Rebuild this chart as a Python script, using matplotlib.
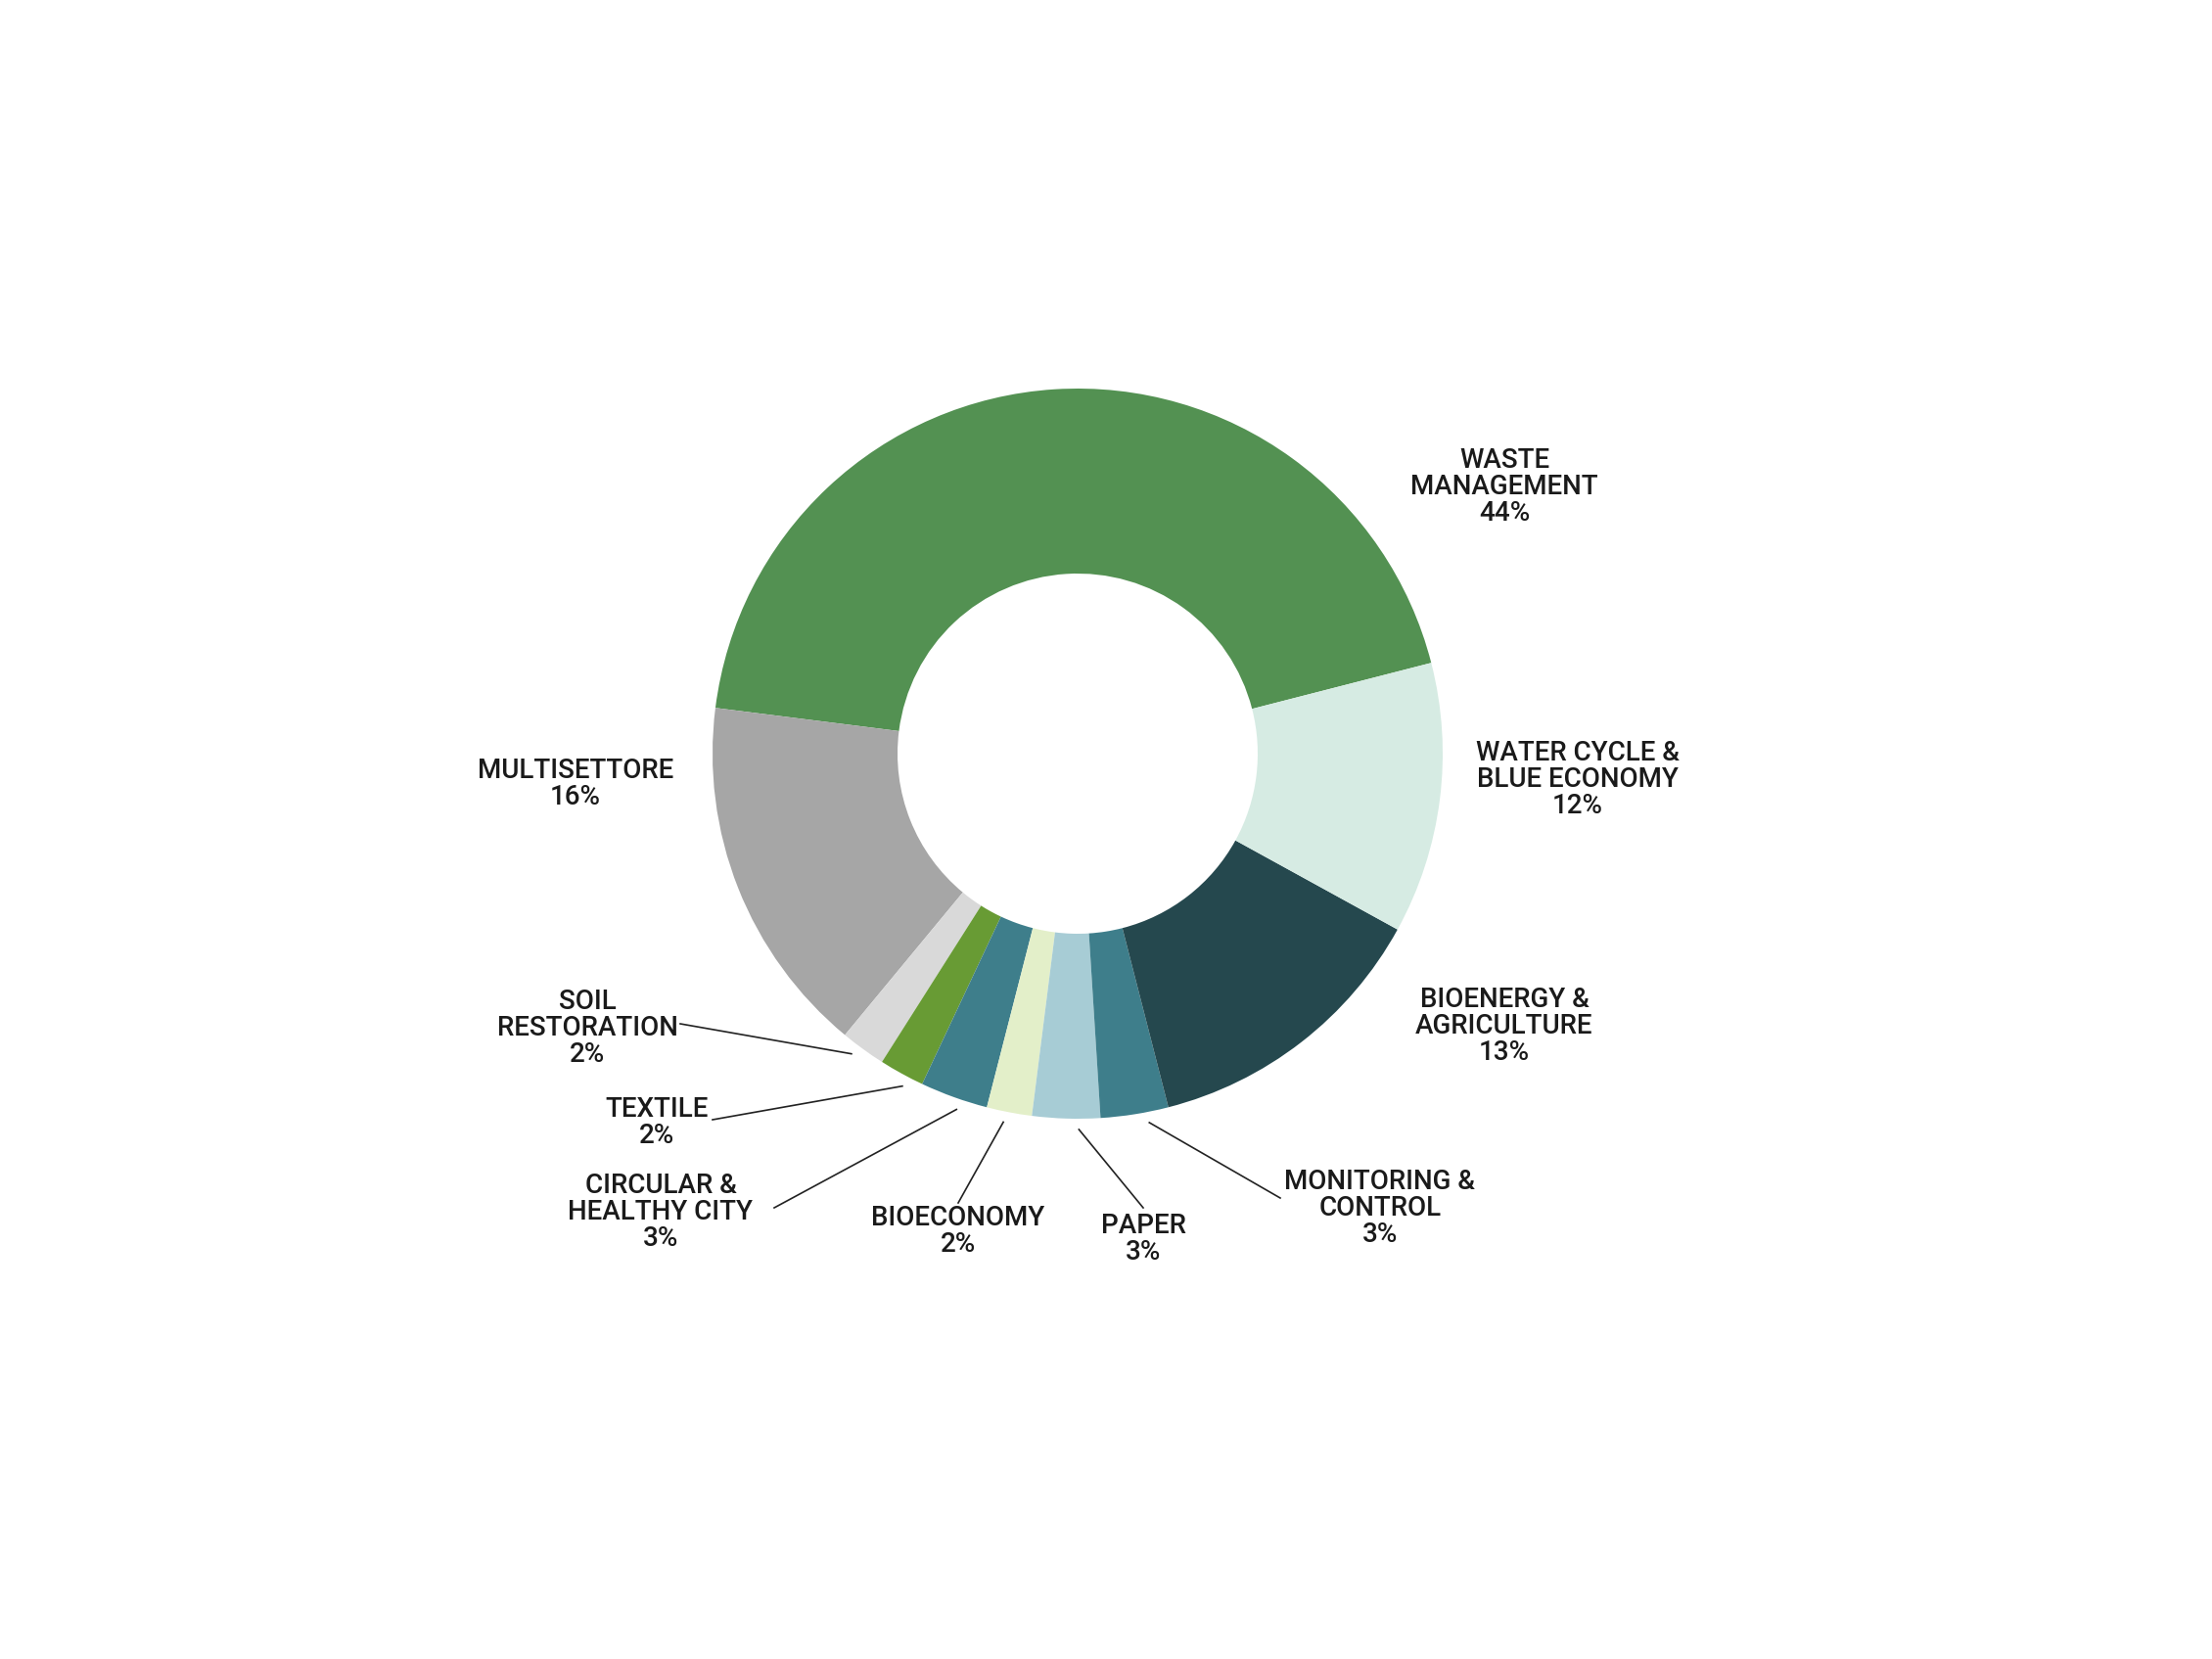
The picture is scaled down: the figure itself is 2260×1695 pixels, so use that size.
import numpy as np
import matplotlib
matplotlib.use('Agg')
import matplotlib.pyplot as plt

W, H = 2260, 1695

# slices, counterclockwise from the right side
labels = ['WASTE\nMANAGEMENT', 'MULTISETTORE', 'SOIL\nRESTORATION', 'TEXTILE',
          'CIRCULAR &\nHEALTHY CITY', 'BIOECONOMY', 'PAPER', 'MONITORING &\nCONTROL',
          'BIOENERGY &\nAGRICULTURE', 'WATER CYCLE &\nBLUE ECONOMY']
shares = [44, 16, 2, 2, 3, 2, 3, 3, 13, 12]
colors = ['#539152', '#a6a6a6', '#d9d9d9', '#689b34', '#3e7e8b',
          '#e3efc9', '#a7ccd5', '#3e7e8b', '#25484e', '#d6ebe3']

# label placement in image pixels (centre x, top y) and leader line end (None = no line)
label_pos = [(1537, 457), (588, 774), (600, 1010), (671, 1120), (675, 1198),
             (979, 1231), (1168, 1239), (1410, 1194), (1537, 1008), (1612, 756)]
line_end = [None, None, (695, 1046), (728, 1144), (791, 1234),
            (979, 1229), (1168, 1234), (1308, 1224), None, None]
# small nudge of the leader start away from the slice middle (degrees)
line_nudge = [0, 0, -1, 1, 1, -0.6, 2, 2, 0, 0]

cx, cy = 1101, 770
r_out, r_in = 373, 184
start = 14.4

fig = plt.figure(figsize=(W / 100, H / 100), dpi=100)
ax = fig.add_axes([0, 0, 1, 1])
ax.pie(shares, colors=colors, startangle=start, counterclock=True,
       center=(cx, H - cy), radius=r_out,
       wedgeprops=dict(width=r_out - r_in, linewidth=0))
ax.set_xlim(0, W)
ax.set_ylim(0, H)
ax.set_aspect('equal')
ax.axis('off')

total = float(sum(shares))
a0 = start
for lab, s, (tx, ty), le, nd in zip(labels, shares, label_pos, line_end, line_nudge):
    mid = np.radians(a0 + 360 * s / total / 2 + nd)
    a0 += 360 * s / total
    ax.text(tx, H - ty, f'{lab}\n{s}%', ha='center', va='top', ma='center',
            fontsize=20, family='Roboto', fontweight='medium', color='#1a1a1a',
            linespacing=1.0)
    if le is not None:
        x0 = cx + 384 * np.cos(mid)
        y0 = (H - cy) + 384 * np.sin(mid)
        ax.plot([x0, le[0]], [y0, H - le[1]], color='#222222', lw=1.2)

fig.savefig('out.png', dpi=100, facecolor='white')
